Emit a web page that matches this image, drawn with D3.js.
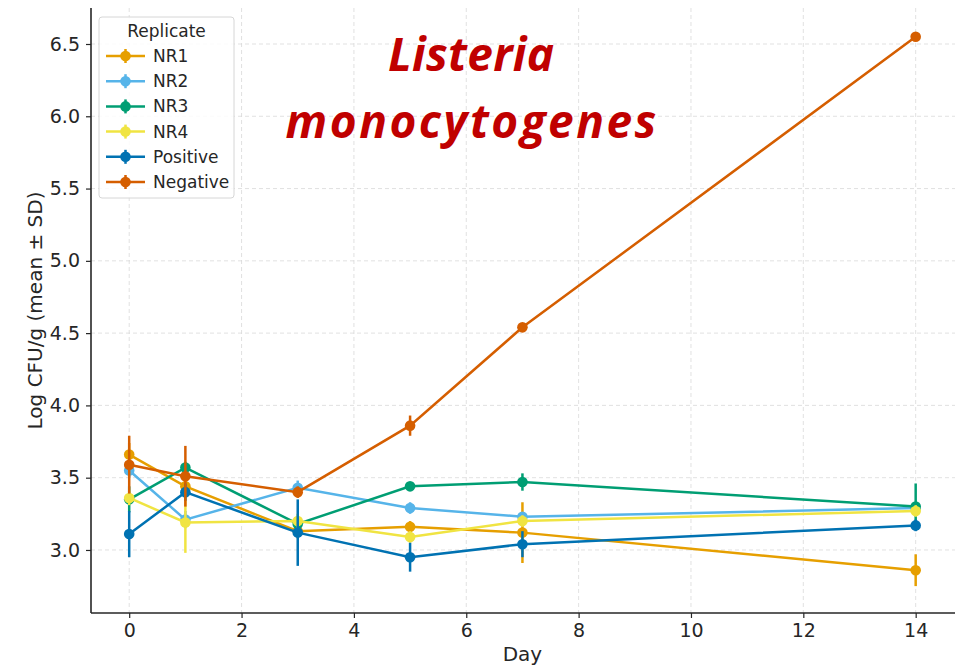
<!DOCTYPE html>
<html>
<head>
<meta charset="utf-8">
<script src="https://cdn.jsdelivr.net/npm/d3@7"></script>
<style>
  body { margin: 0; background: #fff; }
  text { fill: #262626; }
</style>
</head>
<body>
<div id="chart"></div>
<script>
var width = 964,
    height = 666
var margin = {top: 8, right: 9, bottom: 53, left: 91}

// sampling days
var days = [0, 1, 3, 5, 7, 14]
var series = ['NR1', 'NR2', 'NR3', 'NR4', 'Positive', 'Negative']
var colors = ['#E69F00', '#56B4E9', '#009E73', '#F0E442', '#0072B2', '#D55E00']

// means
var nr1 = [3.66, 3.44, 3.13, 3.16, 3.12, 2.86]
var nr2 = [3.55, 3.21, 3.43, 3.29, 3.23, 3.29]
var nr3 = [3.35, 3.57, 3.18, 3.44, 3.47, 3.30]
var nr4 = [3.36, 3.19, 3.20, 3.09, 3.20, 3.27]
var positive = [3.11, 3.40, 3.12, 2.95, 3.04, 3.17]
var negative = [3.59, 3.51, 3.40, 3.86, 4.54, 6.55]

// standard deviations
var nr1Sd = [0.08, 0.06, 0.05, 0.04, 0.21, 0.11]
var nr2Sd = [0.05, 0.06, 0.05, 0.04, 0.03, 0.03]
var nr3Sd = [0.09, 0.04, 0.05, 0.03, 0.06, 0.16]
var nr4Sd = [0.05, 0.21, 0.05, 0.04, 0.04, 0.04]
var positiveSd = [0.16, 0.06, 0.23, 0.10, 0.09, 0.04]
var negativeSd = [0.20, 0.21, 0.04, 0.07, 0.03, 0.03]

var xTicks = [0, 2, 4, 6, 8, 10, 12, 14]
var yTicks = [3.0, 3.5, 4.0, 4.5, 5.0, 5.5, 6.0, 6.5]

var means = [nr1, nr2, nr3, nr4, positive, negative]
var sds = [nr1Sd, nr2Sd, nr3Sd, nr4Sd, positiveSd, negativeSd]

var font = '"DejaVu Sans", sans-serif'

var svg = d3.select('#chart').append('svg')
    .attr('width', width)
    .attr('height', height)

var x = d3.scaleLinear().domain([-0.68, 14.7]).range([margin.left, width - margin.right])
var y = d3.scaleLinear().domain([2.564, 6.749]).range([height - margin.bottom, margin.top])

// grid
var grid = svg.append('g').attr('stroke', '#d9d9d9').attr('stroke-width', 0.8).attr('stroke-dasharray', '4,3')
grid.selectAll('.gx').data(xTicks).enter().append('line')
    .attr('x1', d => x(d)).attr('x2', d => x(d))
    .attr('y1', margin.top).attr('y2', height - margin.bottom)
grid.selectAll('.gy').data(yTicks).enter().append('line')
    .attr('x1', margin.left).attr('x2', width - margin.right)
    .attr('y1', d => y(d)).attr('y2', d => y(d))

// title (second line spaced out a bit to match the wider original face)
var titleLines = [['Listeria', 71, 0.3], ['monocytogenes', 138, 2.5]]
svg.selectAll('.title').data(titleLines).enter().append('text')
    .attr('x', d => 471 + d[2] / 2).attr('y', d => d[1]).attr('text-anchor', 'middle')
    .style('font-family', '"Open Sans", sans-serif').style('font-weight', 700).style('font-style', 'italic')
    .style('font-size', '46px').style('letter-spacing', d => d[2] + 'px').style('fill', '#C00000')
    .text(d => d[0])

// series
var line = d3.line().x((d, i) => x(days[i])).y(d => y(d))
series.forEach(function(name, s) {
  var g = svg.append('g')
  g.append('path').datum(means[s])
      .attr('fill', 'none').attr('stroke', colors[s]).attr('stroke-width', 2.5)
      .attr('d', line)
  g.selectAll('.err').data(means[s]).enter().append('line')
      .attr('x1', (d, i) => x(days[i])).attr('x2', (d, i) => x(days[i]))
      .attr('y1', (d, i) => y(d - sds[s][i])).attr('y2', (d, i) => y(d + sds[s][i]))
      .attr('stroke', colors[s]).attr('stroke-width', 2.5)
  g.selectAll('circle').data(means[s]).enter().append('circle')
      .attr('cx', (d, i) => x(days[i])).attr('cy', d => y(d)).attr('r', 5.3)
      .attr('fill', colors[s])
})

// axes
var xAxis = svg.append('g').attr('transform', 'translate(0,' + (height - margin.bottom) + ')')
    .call(d3.axisBottom(x).tickValues(xTicks).tickFormat(d3.format('d')).tickSize(5).tickPadding(6))
var yAxis = svg.append('g').attr('transform', 'translate(' + margin.left + ',0)')
    .call(d3.axisLeft(y).tickValues(yTicks).tickFormat(d3.format('.1f')).tickSize(5).tickPadding(6))
;[xAxis, yAxis].forEach(function(a) {
  a.selectAll('text').style('font-size', '19px').style('font-family', font).style('fill', '#262626')
  a.selectAll('line').attr('stroke', '#262626').attr('stroke-width', 1.2)
  a.select('.domain').attr('stroke', '#262626').attr('stroke-width', 1.6)
})
xAxis.select('.domain').attr('d', 'M' + margin.left + ',0H' + (width - margin.right))
yAxis.select('.domain').attr('d', 'M0,' + margin.top + 'V' + (height - margin.bottom))

svg.append('text').attr('x', x(7)).attr('y', 661).attr('text-anchor', 'middle')
    .style('font-size', '20px').style('font-family', font).text('Day')
svg.append('text').attr('transform', 'translate(42,' + ((margin.top + height - margin.bottom) / 2) + ') rotate(-90)')
    .attr('text-anchor', 'middle').style('font-size', '20px').style('font-family', font).text('Log CFU/g (mean ± SD)')

// legend
var legend = svg.append('g').attr('transform', 'translate(99,17)')
legend.append('rect').attr('width', 135).attr('height', 181).attr('rx', 3)
    .attr('fill', 'rgba(255,255,255,0.85)').attr('stroke', '#d6d6d6')
legend.append('text').attr('x', 67.5).attr('y', 20).attr('text-anchor', 'middle')
    .style('font-size', '17px').style('font-family', font).text('Replicate')
series.forEach(function(name, s) {
  var row = legend.append('g').attr('transform', 'translate(0,' + (39 + s * 25.2) + ')')
  row.append('line').attr('x1', 7).attr('x2', 46).attr('stroke', colors[s]).attr('stroke-width', 2.5)
  row.append('line').attr('x1', 26.5).attr('x2', 26.5).attr('y1', -7).attr('y2', 7).attr('stroke', colors[s]).attr('stroke-width', 2.5)
  row.append('circle').attr('cx', 26.5).attr('r', 5.3).attr('fill', colors[s])
  row.append('text').attr('x', 54).attr('y', 6).style('font-size', '17px').style('font-family', font).text(name)
})
</script>
</body>
</html>
